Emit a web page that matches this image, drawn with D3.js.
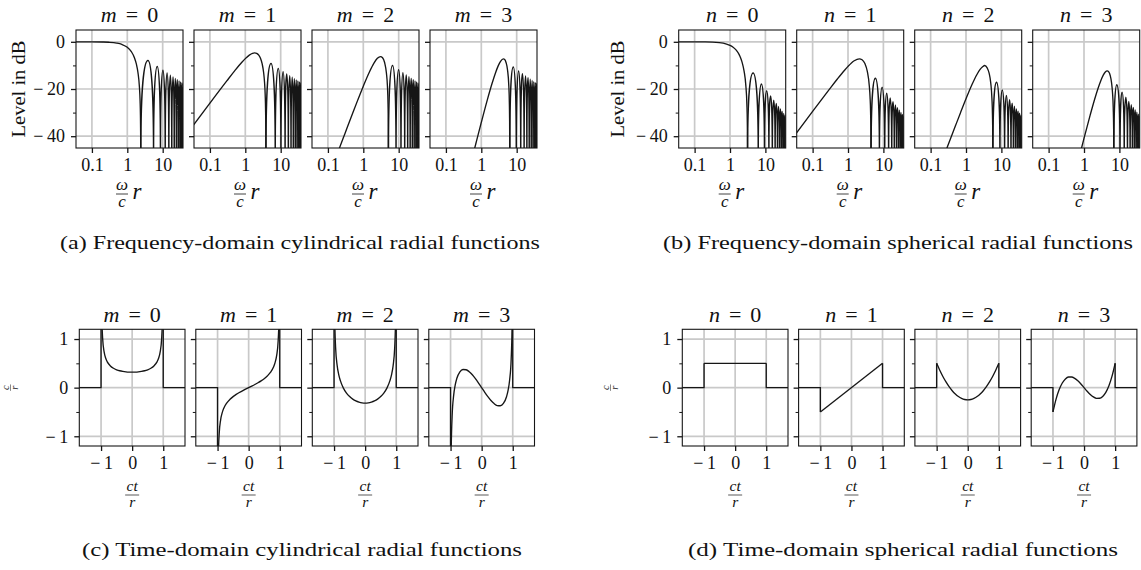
<!DOCTYPE html>
<html><head><meta charset="utf-8">
<script src="https://cdn.jsdelivr.net/npm/d3@7"></script>
<style>
body{margin:0;background:#fff}
svg text{font-family:"Liberation Serif","Times New Roman",serif;fill:#111}
</style>
</head><body>
<svg id="chart" width="1141" height="570"></svg>
<script>
// ---------------- data ----------------
const orders = [0, 1, 2, 3];
const captions = [
  "(a) Frequency-domain cylindrical radial functions",
  "(b) Frequency-domain spherical radial functions",
  "(c) Time-domain cylindrical radial functions",
  "(d) Time-domain spherical radial functions"
];
const freqDomain = [0.0355, 37.5];
const levelDomain = [-45, 5];
const freqXTicks = [0.1, 1, 10];
const freqXTickLabels = ["0.1", "1", "10"];
const levelTicks = [0, -20, -40];
const levelTickLabels = ["0", "\u2212\u200920", "\u2212\u200940"];
const levelMinorTicks = [-10, -30];
const timeDomain = [-1.7, 1.7];
const ampDomain = [-1.2, 1.2];
const timeXTicks = [-1, 0, 1];
const timeXTickLabels = ["\u2212\u20091", "0", "1"];
const ampTicks = [-1, 0, 1];
const ampTickLabels = ["\u2212\u20091", "0", "1"];
const ampMinorTicks = [-0.5, 0.5];

// cylindrical, frequency domain: main lobe [x, dB], lobe zeros, lobe peaks [x, dB]
const cylMain0 = [[0.03,0],[0.1,-0.02],[0.2,-0.09],[0.3,-0.2],[0.5,-0.55],[0.7,-1.10],[1.0,-2.32],[1.3,-4.15],[1.6,-6.83],[1.8,-9.37],[2.0,-13.0],[2.2,-19.14],[2.3,-25.1],[2.35,-31.0],[2.38,-38.4],[2.395,-45.9],[2.4048,-100]];
const cylZeros0 = [2.4048,5.5201,8.6537,11.7915,14.9309,18.0711,21.2116,24.3525,27.4935,30.6346,33.7758,36.9171,40.0584];
const cylPeaks0 = [[3.8317,-7.90],[7.0156,-10.45],[10.1735,-12.05],[13.3237,-13.21],[16.4706,-14.13],[19.6159,-14.89],[22.7601,-15.54],[25.9037,-16.10],[29.0468,-16.60],[32.1897,-17.04],[35.3323,-17.45],[38.47,-17.8]];
const cylMain1 = [[0.03,-36.5],[0.1,-26.0],[0.3,-16.58],[0.5,-12.31],[0.8,-8.66],[1.0,-7.13],[1.3,-5.65],[1.6,-4.88],[1.8412,-4.70],[2.1,-4.91],[2.4,-5.68],[2.7,-7.10],[3.0,-9.39],[3.3,-13.12],[3.5,-17.24],[3.65,-22.6],[3.75,-29.7],[3.8,-37.9],[3.82,-46.5],[3.8317,-100]];
const cylZeros1 = [3.8317,7.0156,10.1735,13.3237,16.4706,19.6159,22.7601,25.9037,29.0468,32.1897,35.3323,38.4748];
const cylPeaks1 = [[5.3314,-9.22],[8.5363,-11.27],[11.7060,-12.64],[14.8636,-13.63],[18.0155,-14.41],[21.1644,-15.07],[24.3113,-15.65],[27.4571,-16.18],[30.6019,-16.64],[33.7462,-17.06],[36.89,-17.45]];
const cylMain2 = [[0.15,-51.0],[0.2,-46.0],[0.3,-39.04],[0.5,-30.29],[0.7,-24.61],[1.0,-18.79],[1.5,-12.69],[2.0,-9.05],[2.5,-7.01],[3.0542,-6.26],[3.5,-6.77],[4.0,-8.78],[4.5,-13.24],[4.8,-18.6],[5.0,-26.6],[5.08,-34.5],[5.12,-45.5],[5.1356,-100]];
const cylZeros2 = [5.1356,8.4172,11.6198,14.7960,17.9598,21.1170,24.2701,27.4206,30.5692,33.7165,36.8633,40.0];
const cylPeaks2 = [[6.7061,-10.07],[9.9695,-11.88],[13.1704,-13.12],[16.3475,-14.07],[19.5129,-14.85],[22.6716,-15.50],[25.8263,-16.07],[28.9777,-16.57],[32.1273,-17.02],[35.2756,-17.43],[38.42,-17.8]];
const cylMain3 = [[0.5,-51.8],[0.7,-43.2],[1.0,-34.17],[1.5,-24.29],[2.0,-17.80],[2.5,-13.29],[3.0,-10.20],[3.5,-8.25],[4.2012,-7.24],[4.5,-7.44],[5.0,-8.76],[5.5,-11.83],[6.0,-18.80],[6.2,-25.5],[6.3,-32.5],[6.35,-41],[6.3802,-100]];
const cylZeros3 = [6.3802,9.7610,13.0152,16.2235,19.4094,22.5827,25.7482,28.9084,32.0649,35.2187,38.3711];
const cylPeaks3 = [[8.0152,-10.72],[11.3459,-12.37],[14.5858,-13.55],[17.7887,-14.44],[20.9725,-15.20],[24.1449,-15.85],[27.3101,-16.43],[30.4703,-16.91],[33.6269,-17.35],[36.78,-17.7]];

// spherical, frequency domain
const sphMain0 = [[0.03,0],[0.2,-0.06],[0.5,-0.36],[0.8,-0.95],[1.0,-1.50],[1.2,-2.20],[1.5,-3.54],[1.8,-5.34],[2.0,-6.85],[2.2,-8.69],[2.5,-12.42],[2.8,-18.47],[3.0,-26.55],[3.08,-34.0],[3.12,-43.2],[3.1416,-100]];
const sphZeros0 = [3.1416,6.2832,9.4248,12.5664,15.7080,18.8496,21.9911,25.1327,28.2743,31.4159,34.5575,37.6991];
const sphPeaks0 = [[4.4934,-13.26],[7.7253,-17.83],[10.9041,-20.79],[14.0662,-22.99],[17.2208,-24.73],[20.3713,-26.19],[23.5195,-27.43],[26.6661,-28.52],[29.8116,-29.49],[32.9564,-30.36],[36.1006,-31.15]];
const sphMain1 = [[0.03,-40.0],[0.1,-29.5],[0.3,-20.08],[0.5,-15.78],[0.8,-12.04],[1.0,-10.42],[1.5,-8.04],[2.0816,-7.21],[2.5,-7.61],[3.0,-9.23],[3.5,-12.44],[4.0,-18.70],[4.2,-23.44],[4.35,-29.9],[4.45,-40.4],[4.4934,-100]];
const sphZeros1 = [4.4934,7.7253,10.9041,14.0662,17.2208,20.3713,23.5195,26.6661,29.8116,32.9564,36.1006,39.2444];
const sphPeaks1 = [[5.9404,-15.49],[9.2058,-19.28],[12.4044,-21.84],[15.5792,-23.83],[18.7426,-25.44],[21.8997,-26.79],[25.0528,-27.96],[28.2034,-29.00],[31.3521,-29.92],[34.4995,-30.76],[37.6459,-31.5]];
const sphMain2 = [[0.2,-51.5],[0.3,-44.4],[0.5,-35.72],[0.7,-30.03],[1.0,-24.15],[1.5,-17.90],[2.0,-14.05],[2.5,-11.70],[3.0,-10.50],[3.3421,-10.03],[4.0,-11.17],[4.5,-13.30],[5.0,-17.41],[5.4,-24.0],[5.6,-31.1],[5.7,-39.5],[5.7635,-100]];
const sphZeros2 = [5.7635,9.0950,12.3229,15.5146,18.6890,21.8539,25.0128,28.1678,31.3201,34.4704,37.6193];
const sphPeaks2 = [[7.29,-17.1],[10.61,-20.40],[13.85,-22.76],[17.04,-24.58],[20.22,-26.08],[23.38,-27.36],[26.53,-28.46],[29.68,-29.44],[32.83,-30.32],[35.97,-31.11]];
const sphMain3 = [[0.6,-54],[0.8,-46.6],[1.0,-40.92],[1.5,-30.96],[2.0,-24.32],[2.5,-19.67],[3.0,-16.36],[3.5,-14.11],[4.0,-12.79],[4.5141,-12.33],[5.0,-12.77],[5.5,-14.27],[6.0,-17.28],[6.4,-21.68],[6.7,-28.0],[6.9,-38.5],[6.9879,-100]];
const sphZeros3 = [6.9879,10.4171,13.6980,16.9236,20.1218,23.3042,26.4768,29.6426,32.8037,35.9614,39.1164];
const sphPeaks3 = [[8.45,-18.18],[11.95,-21.37],[15.22,-23.54],[18.45,-25.25],[21.65,-26.65],[24.84,-27.86],[28.02,-28.91],[31.18,-29.85],[34.35,-30.70],[37.52,-31.5]];

// time domain: values on the support -1..1 (zero outside)
const cylTime0 = [[-0.999,7.12],[-0.99,2.258],[-0.98,1.600],[-0.95,1.019],[-0.9,0.730],[-0.85,0.604],[-0.8,0.531],[-0.7,0.446],[-0.6,0.398],[-0.5,0.368],[-0.4,0.347],[-0.3,0.334],[-0.2,0.325],[-0.1,0.320],[0,0.318],[0.1,0.320],[0.2,0.325],[0.3,0.334],[0.4,0.347],[0.5,0.368],[0.6,0.398],[0.7,0.446],[0.8,0.531],[0.85,0.604],[0.9,0.730],[0.95,1.019],[0.98,1.600],[0.99,2.258],[0.999,7.12]];
const cylTime1 = [[-0.999,-7.11],[-0.99,-2.235],[-0.98,-1.568],[-0.95,-0.968],[-0.9,-0.657],[-0.85,-0.514],[-0.8,-0.424],[-0.7,-0.312],[-0.6,-0.239],[-0.5,-0.184],[-0.4,-0.139],[-0.3,-0.100],[-0.2,-0.065],[-0.1,-0.032],[0,0],[0.1,0.032],[0.2,0.065],[0.3,0.100],[0.4,0.139],[0.5,0.184],[0.6,0.239],[0.7,0.312],[0.8,0.424],[0.85,0.514],[0.9,0.657],[0.95,0.968],[0.98,1.568],[0.99,2.235],[0.999,7.11]];
const cylTime2 = [[-0.999,7.09],[-0.99,2.168],[-0.98,1.473],[-0.95,0.820],[-0.9,0.453],[-0.85,0.269],[-0.8,0.149],[-0.7,-0.009],[-0.6,-0.111],[-0.5,-0.184],[-0.4,-0.236],[-0.3,-0.274],[-0.2,-0.299],[-0.1,-0.314],[0,-0.318],[0.1,-0.314],[0.2,-0.299],[0.3,-0.274],[0.4,-0.236],[0.5,-0.184],[0.6,-0.111],[0.7,-0.009],[0.8,0.149],[0.85,0.269],[0.9,0.453],[0.95,0.820],[0.98,1.473],[0.99,2.168],[0.999,7.09]];
const cylTime3 = [[-0.999,-7.06],[-0.99,-2.057],[-0.98,-1.320],[-0.95,-0.591],[-0.9,-0.158],[-0.85,0.057],[-0.8,0.187],[-0.7,0.325],[-0.6,0.373],[-0.5,0.368],[-0.4,0.328],[-0.3,0.265],[-0.2,0.185],[-0.1,0.095],[0,0],[0.1,-0.095],[0.2,-0.185],[0.3,-0.265],[0.4,-0.328],[0.5,-0.368],[0.6,-0.373],[0.7,-0.325],[0.8,-0.187],[0.85,-0.057],[0.9,0.158],[0.95,0.591],[0.98,1.320],[0.99,2.057],[0.999,7.06]];
const sphTime0 = [[-1,0.5],[1,0.5]];
const sphTime1 = [[-1,-0.5],[1,0.5]];
const sphTime2 = [[-1,0.5],[-0.9,0.358],[-0.8,0.23],[-0.7,0.118],[-0.6,0.02],[-0.5,-0.063],[-0.4,-0.13],[-0.3,-0.183],[-0.2,-0.22],[-0.1,-0.243],[0,-0.25],[0.1,-0.243],[0.2,-0.22],[0.3,-0.183],[0.4,-0.13],[0.5,-0.063],[0.6,0.02],[0.7,0.118],[0.8,0.23],[0.9,0.358],[1,0.5]];
const sphTime3 = [[-1,-0.5],[-0.9,-0.236],[-0.8,-0.04],[-0.7,0.096],[-0.6,0.18],[-0.5,0.219],[-0.4,0.22],[-0.3,0.191],[-0.2,0.14],[-0.1,0.074],[0,0],[0.1,-0.074],[0.2,-0.14],[0.3,-0.191],[0.4,-0.22],[0.5,-0.219],[0.6,-0.18],[0.7,-0.096],[0.8,0.04],[0.9,0.236],[1,0.5]];

// ---------------- drawing ----------------
const svg = d3.select("#chart");
const GRID = "#c9c9c9", INK = "#161616", FONT = '"Liberation Serif","Times New Roman",serif';
let clipId = 0;

const rows = [
  {kind:"freq", letter:"m", left:76, step:118, w:107, top:30, h:118, mains:[cylMain0,cylMain1,cylMain2,cylMain3], zeros:[cylZeros0,cylZeros1,cylZeros2,cylZeros3], peaks:[cylPeaks0,cylPeaks1,cylPeaks2,cylPeaks3], ylabX:18.5, titleY:21.5, capIdx:0, capX:300, capY:249, capW:480},
  {kind:"freq", letter:"n", left:678.7, step:118, w:107, top:30, h:118, mains:[sphMain0,sphMain1,sphMain2,sphMain3], zeros:[sphZeros0,sphZeros1,sphZeros2,sphZeros3], peaks:[sphPeaks0,sphPeaks1,sphPeaks2,sphPeaks3], ylabX:617.5, titleY:21.5, capIdx:1, capX:898, capY:249, capW:470},
  {kind:"time", letter:"m", left:79.3, step:116.5, w:105.7, top:329.3, h:116.7, curves:[cylTime0,cylTime1,cylTime2,cylTime3], ylabX:10.5, titleY:321.5, capIdx:2, capX:302, capY:556, capW:440},
  {kind:"time", letter:"n", left:682.3, step:116.3, w:105.7, top:329.3, h:116.7, curves:[sphTime0,sphTime1,sphTime2,sphTime3], ylabX:610.5, titleY:321.5, capIdx:3, capX:903, capY:556, capW:430}
];

function styleAxis(g, fs) {
  g.select(".domain").remove();
  g.selectAll(".tick line").attr("stroke", INK).attr("stroke-width", 1.3);
  g.selectAll(".tick text").attr("font-family", FONT).attr("font-size", fs).attr("fill", "#111");
  g.attr("font-family", FONT);
}

function lobePath(x, y, z0, z1, p) {
  const x0 = x(z0), x1 = x(z1), xp = x(p[0]), yp = y(p[1]), yb = y(-47);
  const yc = yb + 0.75 * (yp - yb);
  return `M${x0},${yb}C${x0},${yc} ${xp - 0.5 * (xp - x0)},${yp} ${xp},${yp}` +
         `C${xp + 0.5 * (x1 - xp)},${yp} ${x1},${yc} ${x1},${yb}`;
}

rows.forEach(row => {
  orders.forEach((ord, i) => {
    const px = row.left + i * row.step, py = row.top, w = row.w, h = row.h;
    const g = svg.append("g");
    let x, y, xt, xtl, yt, ytl, ym;
    if (row.kind === "freq") {
      x = d3.scaleLog().domain(freqDomain).range([px, px + w]);
      y = d3.scaleLinear().domain(levelDomain).range([py + h, py]);
      xt = freqXTicks; xtl = freqXTickLabels; yt = levelTicks; ytl = levelTickLabels; ym = levelMinorTicks;
    } else {
      x = d3.scaleLinear().domain(timeDomain).range([px, px + w]);
      y = d3.scaleLinear().domain(ampDomain).range([py + h, py]);
      xt = timeXTicks; xtl = timeXTickLabels; yt = ampTicks; ytl = ampTickLabels; ym = ampMinorTicks;
    }
    // grid
    g.selectAll(".gx").data(xt).join("line")
      .attr("x1", d => x(d)).attr("x2", d => x(d)).attr("y1", py).attr("y2", py + h)
      .attr("stroke", GRID).attr("stroke-width", 1.7);
    g.selectAll(".gy").data(yt).join("line")
      .attr("x1", px).attr("x2", px + w).attr("y1", d => y(d)).attr("y2", d => y(d))
      .attr("stroke", GRID).attr("stroke-width", 1.7);
    // clip
    const cid = "clip" + (clipId++);
    svg.append("clipPath").attr("id", cid).append("rect").attr("x", px).attr("y", py).attr("width", w).attr("height", h);
    const cg = g.append("g").attr("clip-path", `url(#${cid})`);
    if (row.kind === "freq") {
      const line = d3.line().x(d => x(d[0])).y(d => y(d[1])).curve(d3.curveMonotoneX);
      cg.append("path").attr("d", line(row.mains[i])).attr("fill", "none").attr("stroke", INK).attr("stroke-width", 1.35);
      const zs = row.zeros[i], ps = row.peaks[i];
      const d = ps.map((p, k) => lobePath(x, y, zs[k], zs[k + 1], p)).join("");
      cg.append("path").attr("d", d).attr("fill", "none").attr("stroke", INK).attr("stroke-width", 1.5);
    } else {
      const pts = row.curves[i];
      const first = pts[0], last = pts[pts.length - 1];
      const lin = d3.line().x(d => x(d[0])).y(d => y(d[1]));
      const smooth = d3.line().x(d => x(d[0])).y(d => y(d[1])).curve(d3.curveMonotoneX);
      cg.append("path").attr("d", lin([[timeDomain[0] - 0.1, 0], [-1, 0], first])).attr("fill", "none").attr("stroke", INK).attr("stroke-width", 1.35);
      cg.append("path").attr("d", smooth(pts)).attr("fill", "none").attr("stroke", INK).attr("stroke-width", 1.35);
      cg.append("path").attr("d", lin([last, [1, 0], [timeDomain[1] + 0.1, 0]])).attr("fill", "none").attr("stroke", INK).attr("stroke-width", 1.35);
    }
    // frame
    g.append("rect").attr("x", px).attr("y", py).attr("width", w).attr("height", h)
      .attr("fill", "none").attr("stroke", INK).attr("stroke-width", 1.1);
    // axes
    const yAx = g.append("g").attr("transform", `translate(${px},0)`)
      .call(d3.axisLeft(y).tickValues(yt).tickSize(5).tickPadding(6).tickFormat((d, k) => i === 0 ? ytl[k] : ""));
    styleAxis(yAx, 18);
    const yMin = g.append("g").attr("transform", `translate(${px},0)`)
      .call(d3.axisLeft(y).tickValues(ym).tickSize(3).tickFormat(""));
    styleAxis(yMin, 18);
    yMin.selectAll(".tick line").attr("stroke-width", 1);
    const xAx = g.append("g").attr("transform", `translate(0,${py + h})`)
      .call(d3.axisBottom(x).tickValues(xt).tickSize(5).tickPadding(row.kind === "freq" ? 4.8 : 5.3).tickFormat((d, k) => xtl[k]));
    styleAxis(xAx, 18);
    // title
    const cx = px + w / 2;
    const t = svg.append("text").attr("x", cx).attr("y", row.titleY).attr("text-anchor", "middle").attr("font-size", 22);
    t.append("tspan").attr("font-style", "italic").text(row.letter);
    t.append("tspan").attr("dx", 9).text("=");
    t.append("tspan").attr("dx", 9).text(String(ord));
    // x label
    if (row.kind === "freq") {
      const fx = cx - 7.5;
      svg.append("text").attr("x", fx).attr("y", 190).attr("text-anchor", "middle").attr("font-size", 17).attr("font-style", "italic").text("\u03c9");
      svg.append("line").attr("x1", fx - 6).attr("x2", fx + 6).attr("y1", 194).attr("y2", 194).attr("stroke", "#111").attr("stroke-width", 0.8);
      svg.append("text").attr("x", fx).attr("y", 207).attr("text-anchor", "middle").attr("font-size", 17).attr("font-style", "italic").text("c");
      svg.append("text").attr("x", cx + 7.5).attr("y", 198.5).attr("text-anchor", "middle").attr("font-size", 23).attr("font-style", "italic").text("r");
    } else {
      svg.append("text").attr("x", cx).attr("y", 490.5).attr("text-anchor", "middle").attr("font-size", 15.5).attr("font-style", "italic").text("ct");
      svg.append("line").attr("x1", cx - 7).attr("x2", cx + 7).attr("y1", 495).attr("y2", 495).attr("stroke", "#111").attr("stroke-width", 0.7);
      svg.append("text").attr("x", cx).attr("y", 507).attr("text-anchor", "middle").attr("font-size", 15.5).attr("font-style", "italic").text("r");
    }
  });
  // y label
  const midY = row.top + row.h / 2;
  if (row.kind === "freq") {
    svg.append("text").attr("transform", `translate(${row.ylabX + 6.5},${midY}) rotate(-90)`)
      .attr("text-anchor", "middle").attr("font-size", 19.5)
      .attr("textLength", 97).attr("lengthAdjust", "spacingAndGlyphs").text("Level in dB");
  } else {
    const lg = svg.append("g").attr("transform", `translate(${row.ylabX},${midY}) rotate(-90)`);
    lg.append("text").attr("x", 0).attr("y", -1.2).attr("text-anchor", "middle").attr("font-size", 10.5).attr("font-style", "italic").text("c");
    lg.append("line").attr("x1", -3.2).attr("x2", 3.2).attr("y1", 0).attr("y2", 0).attr("stroke", "#111").attr("stroke-width", 0.5);
    lg.append("text").attr("x", 0).attr("y", 7).attr("text-anchor", "middle").attr("font-size", 10.5).attr("font-style", "italic").text("r");
  }
  // caption
  svg.append("text").attr("x", row.capX).attr("y", row.capY).attr("text-anchor", "middle")
    .attr("font-size", 19.5).attr("textLength", row.capW).attr("lengthAdjust", "spacingAndGlyphs")
    .text(captions[row.capIdx]);
});
</script>
</body></html>
